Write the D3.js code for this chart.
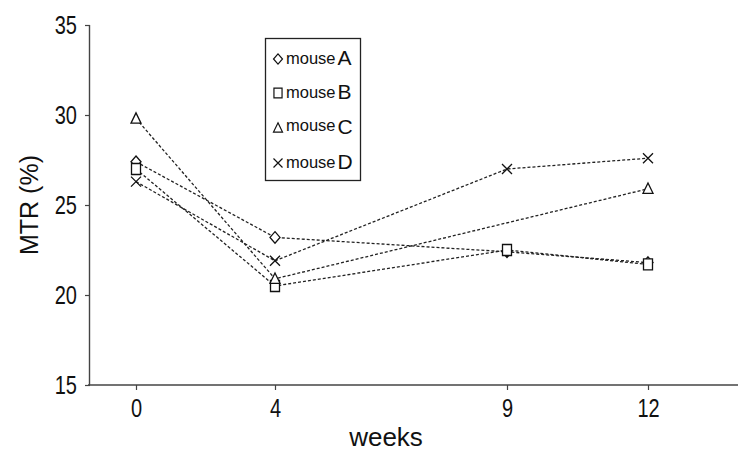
<!DOCTYPE html>
<html>
<head>
<meta charset="utf-8">
<script src="https://cdn.jsdelivr.net/npm/d3@7"></script>
<style>
  html, body { margin: 0; padding: 0; background: #fff; }
  svg { display: block; }
</style>
</head>
<body>
<svg id="chart" width="750" height="458"></svg>
<script>
// ---- data ----
const weeks = [0, 4, 9, 12];
const yTicks = [15, 20, 25, 30, 35];
const mouseA = [27.4, 23.2, 22.4, 21.8];
const mouseB = [27.0, 20.5, 22.5, 21.7];
const mouseC = [29.8, 20.9, null, 25.9];
const mouseD = [26.3, 21.9, 27.0, 27.6];
const seriesNames = ["A", "B", "C", "D"];
const seriesValues = [mouseA, mouseB, mouseC, mouseD];
const seriesShapes = ["diamond", "square", "triangle", "cross"];

// ---- layout ----
const axisX = 90, axisY = 385, topY = 25, rightX = 738;
const svg = d3.select("#chart");
const regular = "'Liberation Sans', Arial, sans-serif";

const x = d3.scaleLinear().domain(weeks).range([136, 275, 507, 648]);
const y = d3.scaleLinear().domain([15, 35]).range([axisY, topY]);

function shapePath(shape, s) {
  const h = s / 2;
  switch (shape) {
    case "diamond": return `M0,${-h*1.15}L${h},0L0,${h*1.15}L${-h},0Z`;
    case "square": return `M${-h*0.9},${-h*1.1}H${h*0.9}V${h*1.1}H${-h*0.9}Z`;
    case "triangle": return `M0,${-h*1.15}L${h},${h*0.9}L${-h},${h*0.9}Z`;
    case "cross": return `M${-h},${-h}L${h},${h}M${h},${-h}L${-h},${h}`;
  }
}

function condense(sel, f) {
  sel.each(function () {
    const w = this.getComputedTextLength();
    d3.select(this).attr("textLength", w * f).attr("lengthAdjust", "spacingAndGlyphs");
  });
}

// ---- axes ----
const yAxis = d3.axisLeft(y).tickValues(yTicks).tickSize(5).tickPadding(8);
const gy = svg.append("g").attr("transform", `translate(${axisX},0)`).call(yAxis);
gy.select(".domain").attr("stroke", "#444").attr("stroke-width", 1.4).attr("d", `M-0.5,${topY}V${axisY}`);
gy.selectAll(".tick line").attr("stroke", "#444").attr("stroke-width", 1.2);
gy.selectAll(".tick text").attr("font-family", regular).attr("font-size", 25).attr("fill", "#111")
  .attr("font-family", regular);
condense(gy.selectAll(".tick text"), 0.8);

const xAxis = d3.axisBottom(x).tickValues(weeks).tickSize(5).tickPadding(9);
const gx = svg.append("g").attr("transform", `translate(0,${axisY})`).call(xAxis);
gx.select(".domain").attr("stroke", "#444").attr("stroke-width", 1.6).attr("d", `M${axisX - 2},0H${rightX}`);
gx.selectAll(".tick line").attr("stroke", "#444").attr("stroke-width", 1.2);
gx.selectAll(".tick text").attr("font-family", regular).attr("font-size", 25).attr("fill", "#111");
condense(gx.selectAll(".tick text"), 0.8);

// axis titles
svg.append("text")
  .attr("transform", `translate(38,${(topY + axisY) / 2}) rotate(-90)`)
  .attr("text-anchor", "middle")
  .attr("font-family", regular).attr("font-size", 25).attr("fill", "#111")
  .text("MTR (%)");
svg.append("text")
  .attr("x", 386).attr("y", 446)
  .attr("text-anchor", "middle")
  .attr("font-family", regular).attr("font-size", 26).attr("fill", "#111")
  .text("weeks");

// ---- series ----
const line = d3.line().x(d => x(d.w)).y(d => y(d.v));

seriesValues.forEach((vals) => {
  const pts = weeks.map((w, j) => ({ w, v: vals[j] })).filter(d => d.v != null);
  svg.append("path")
    .attr("d", line(pts))
    .attr("fill", "none").attr("stroke", "#222")
    .attr("stroke-width", 1.3).attr("stroke-dasharray", "3,2");
});

seriesValues.forEach((vals, i) => {
  const pts = weeks.map((w, j) => ({ w, v: vals[j] })).filter(d => d.v != null);
  svg.selectAll(null).data(pts).enter().append("path")
    .attr("transform", d => `translate(${x(d.w)},${y(d.v)})`)
    .attr("d", shapePath(seriesShapes[i], 10))
    .attr("fill", seriesShapes[i] === "cross" ? "none" : "#fff")
    .attr("stroke", "#111").attr("stroke-width", 1.3);
});

// ---- legend ----
const lg = svg.append("g");
lg.append("rect").attr("x", 265.5).attr("y", 38.5).attr("width", 95).attr("height", 142)
  .attr("fill", "#fff").attr("stroke", "#222").attr("stroke-width", 1.3);
const rowY = [59, 93, 128, 163];
seriesNames.forEach((n, i) => {
  const cy = rowY[i];
  const off = i === 2 ? -2 : 0;
  lg.append("path")
    .attr("transform", `translate(278,${cy})`)
    .attr("d", shapePath(seriesShapes[i], 9))
    .attr("fill", "none").attr("stroke", "#111").attr("stroke-width", 1.2);
  const t1 = lg.append("text")
    .attr("x", 286).attr("y", cy + 5 + off)
    .attr("font-family", regular).attr("font-size", 16.5).attr("fill", "#111")
    .text("mouse");
  const w1 = t1.node().getComputedTextLength();
  lg.append("text")
    .attr("x", 286 + w1 + 2).attr("y", cy + 6)
    .attr("font-family", regular).attr("font-size", 21).attr("fill", "#111")
    .text(n);
});
</script>
</body>
</html>
